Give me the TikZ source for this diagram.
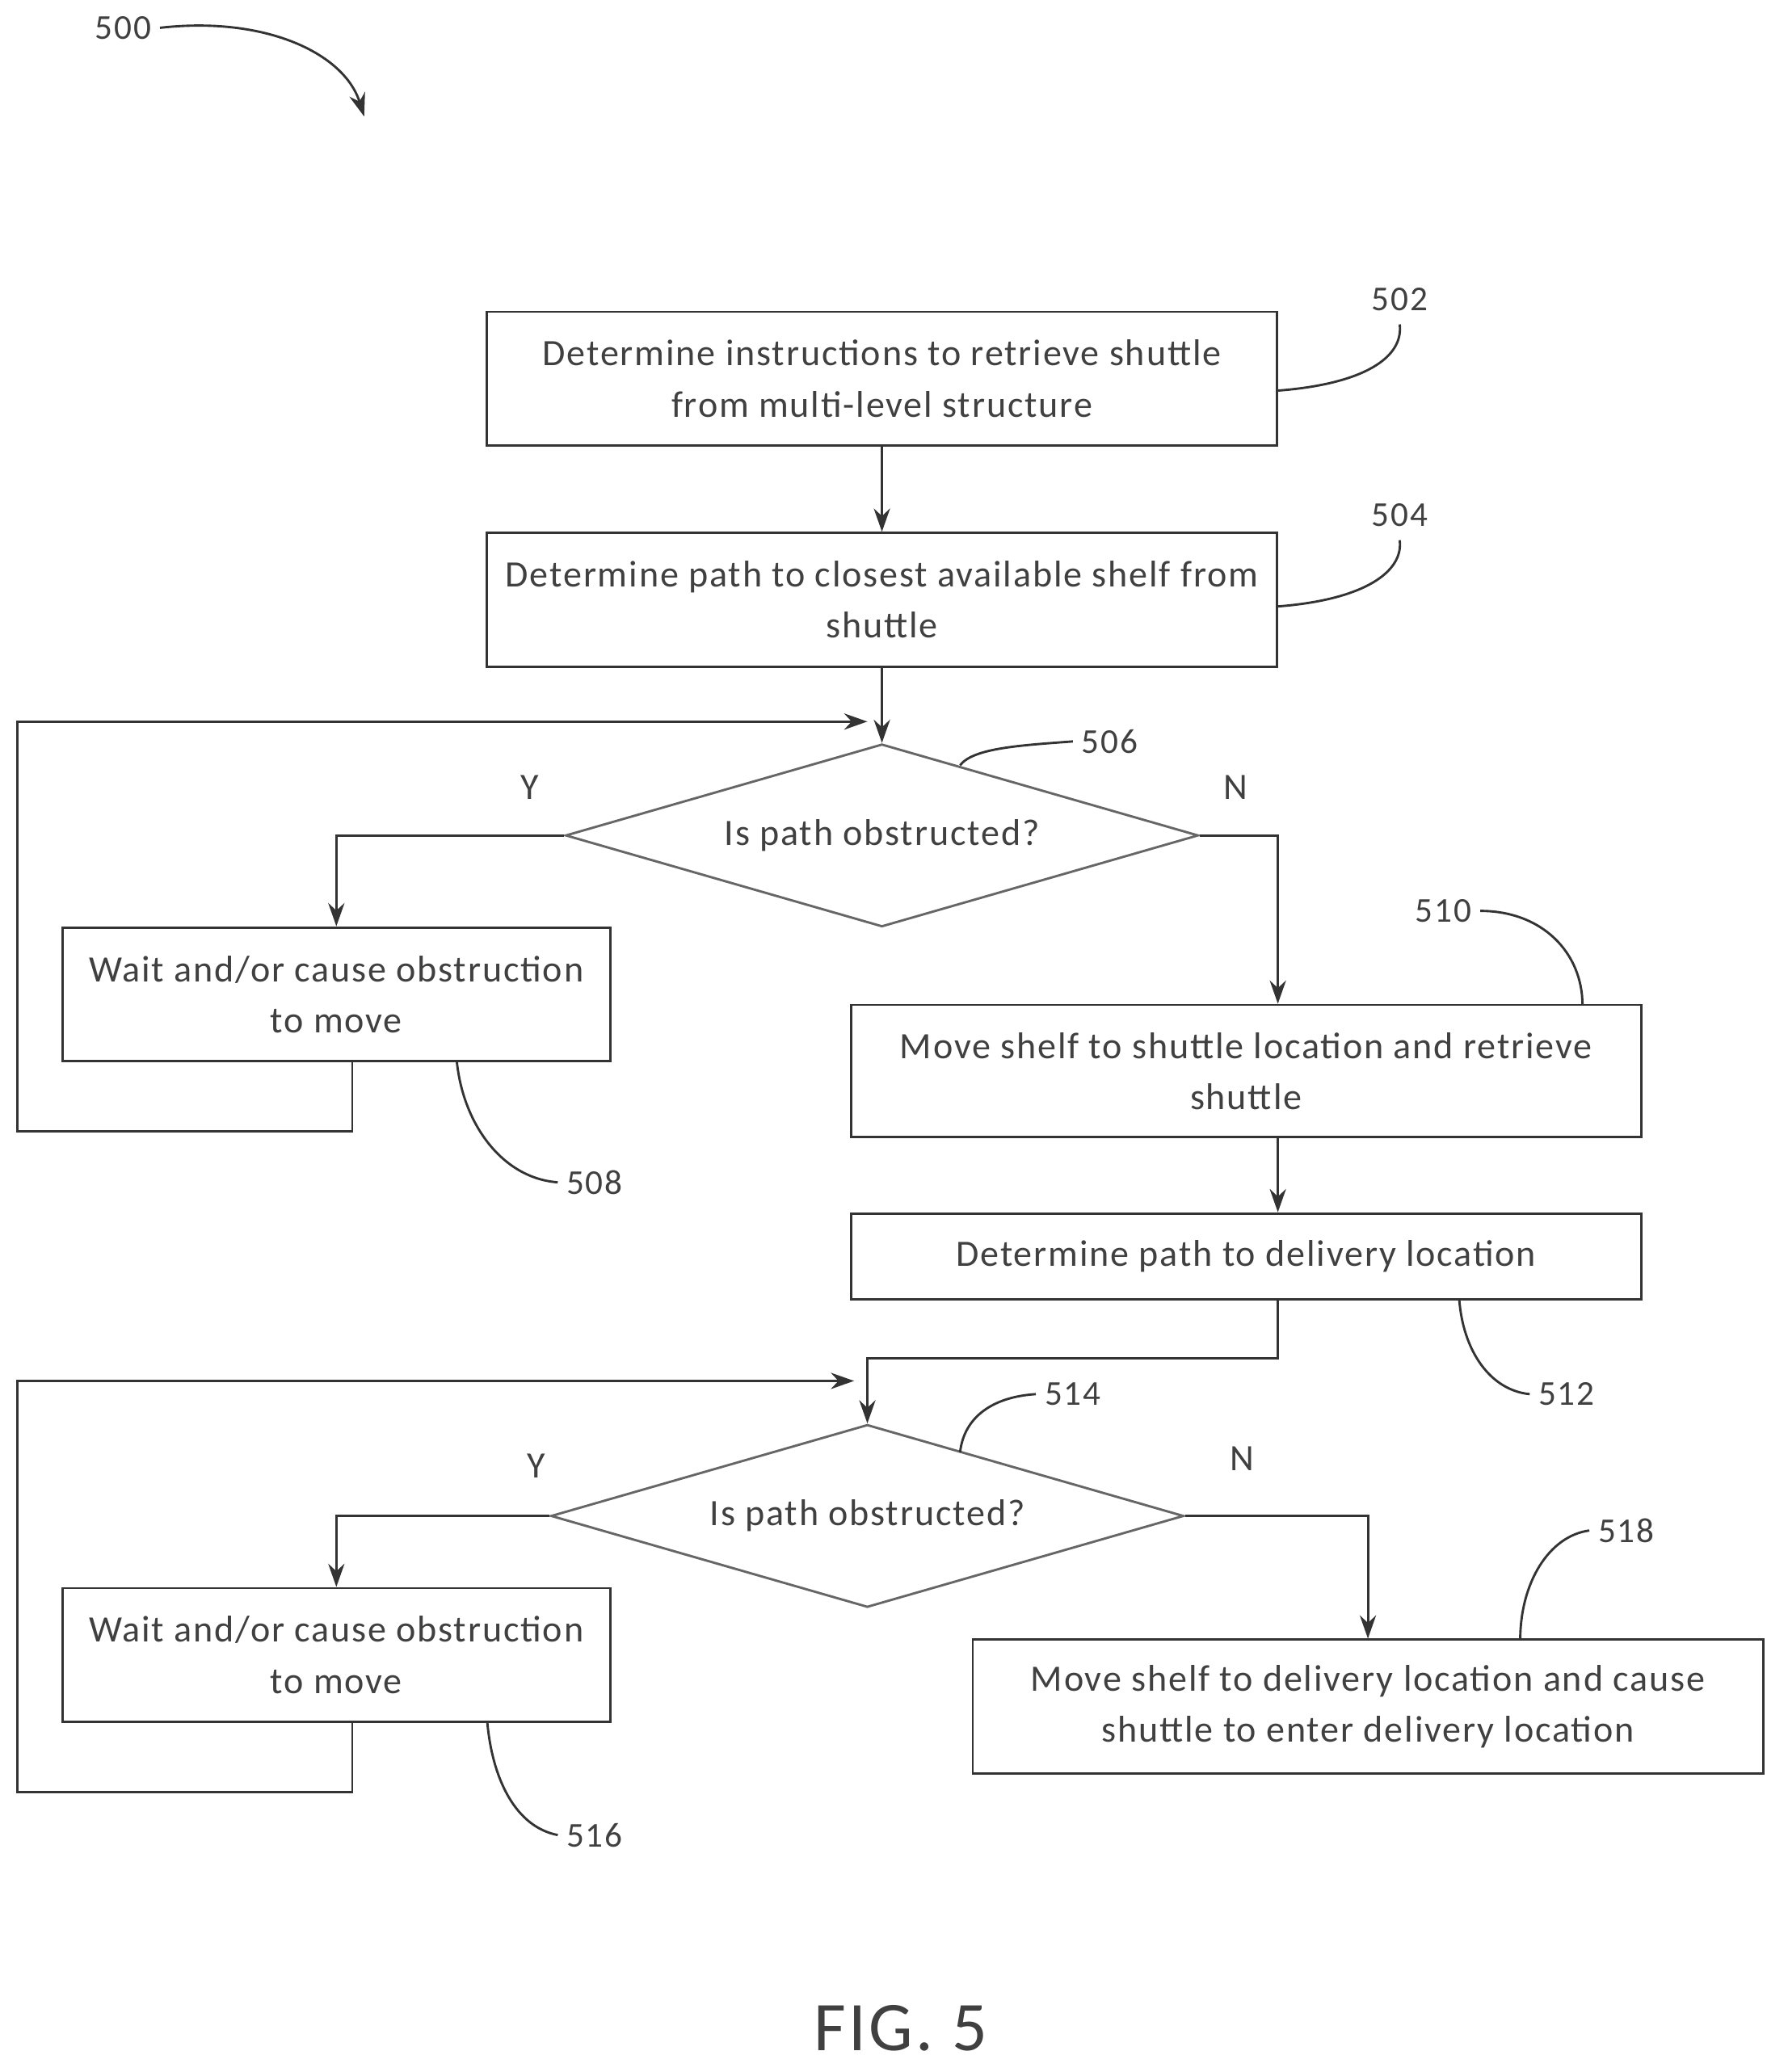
\documentclass[tikz,border=0pt]{standalone}
\usepackage{fontspec}
\setmainfont{Carlito}[LetterSpace=4]
\usetikzlibrary{shapes.geometric, arrows.meta, positioning}

\begin{document}
\begin{tikzpicture}[
    x=0.02cm, y=-0.02cm,
    line width=1pt,
    every node/.style={font=\fontsize{16}{22}\selectfont, text=black!75},
    process/.style={rectangle, draw=black!80, align=center, inner sep=2pt},
    decision/.style={diamond, draw=black!60, aspect=3.46, inner sep=0pt, minimum width=9.56cm, minimum height=2.76cm},
    arrow/.style={-{Stealth[length=10pt,width=7pt]}, draw=black!80},
    lead/.style={draw=black!80},
    refnum/.style={font=\fontsize{15}{18}\selectfont}
]
\useasboundingbox (0,0) rectangle (1350,1565);

% process steps
\node[process, minimum width=11.94cm, minimum height=2.02cm] (retrieve) at (666,286) {Determine instructions to retrieve shuttle\\from multi-level structure};
\node[process, minimum width=11.94cm, minimum height=2.02cm] (shelfpath) at (666,453) {Determine path to closest available shelf from\\shuttle};
\node[decision] (check1) at (666,631) {Is path obstructed?};
\node[process, minimum width=8.28cm, minimum height=2.02cm] (wait1) at (254,751) {Wait and/or cause obstruction\\to move};
\node[process, minimum width=11.94cm, minimum height=2.0cm] (moveshelf) at (941,809) {Move shelf to shuttle location and retrieve\\shuttle};
\node[process, minimum width=11.94cm, minimum height=1.3cm] (delpath) at (941,949) {Determine path to delivery location};
\node[decision] (check2) at (655,1145) {Is path obstructed?};
\node[process, minimum width=8.28cm, minimum height=2.02cm] (wait2) at (254,1250) {Wait and/or cause obstruction\\to move};
\node[process, minimum width=11.94cm, minimum height=2.02cm] (deliver) at (1033,1289) {Move shelf to delivery location and cause\\shuttle to enter delivery location};

% helper points
\coordinate (join1) at (655,545);
\coordinate (join2) at (645,1043);

% connectors
\draw[arrow] (retrieve) -- (shelfpath);
\draw[arrow] (shelfpath) -- (check1.north);
\draw[arrow] (check1.west) -| (wait1.north);
\draw[arrow] (check1.east) -| ([xshift=0.48cm] moveshelf.north);
\draw[arrow] ([xshift=0.24cm] wait1.south) -- ++(0,52) -| (13,545) -- (join1);
\draw[arrow] ([xshift=0.48cm] moveshelf.south) -- ([xshift=0.48cm] delpath.north);
\draw[arrow] ([xshift=0.48cm] delpath.south) |- (655,1026) -- (check2.north);
\draw[arrow] (check2.west) -| (wait2.north);
\draw[arrow] (check2.east) -| (deliver.north);
\draw[arrow] ([xshift=0.24cm] wait2.south) -- ++(0,52) -| (13,1043) -- (join2);

% branch labels
\node at (400,595) {Y};
\node at (933,595) {N};
\node at (405,1107) {Y};
\node at (938,1102) {N};

% reference numerals
\node[refnum] (n500) at (93,21) {500};
\node[refnum] (n502) at (1057,226) {502};
\node[refnum] (n504) at (1057,389) {504};
\node[refnum] (n506) at (838,560) {506};
\node[refnum] (n508) at (449,893) {508};
\node[refnum] (n510) at (1090,688) {510};
\node[refnum] (n512) at (1183,1053) {512};
\node[refnum] (n514) at (810,1053) {514};
\node[refnum] (n516) at (449,1386) {516};
\node[refnum] (n518) at (1228,1156) {518};

\draw[arrow] (n500.east) .. controls (200,12) and (260,40) .. (275,88);
\draw[lead] (retrieve.east |- 0,295) .. controls (1030,290) and (1060,270) .. (1057,245);
\draw[lead] (shelfpath.east |- 0,458) .. controls (1030,453) and (1060,432) .. (1057,408);
\draw[lead] (725,578) .. controls (735,565) and (770,563) .. (n506.west);
\draw[lead] (345,802) .. controls (350,850) and (380,890) .. (n508.west);
\draw[lead] (n510.east) .. controls (1165,688) and (1195,720) .. (1195,759);
\draw[lead] (1102,982) .. controls (1105,1020) and (1125,1050) .. (n512.west);
\draw[lead] (725,1097) .. controls (728,1070) and (750,1055) .. (n514.west);
\draw[lead] (368,1301) .. controls (372,1345) and (390,1380) .. (n516.west);
\draw[lead] (1148,1239) .. controls (1148,1195) and (1170,1160) .. (n518.west);

\node[font=\fontsize{30}{34}\selectfont] (fig) at (680,1532) {FIG. 5};
\end{tikzpicture}
\end{document}
